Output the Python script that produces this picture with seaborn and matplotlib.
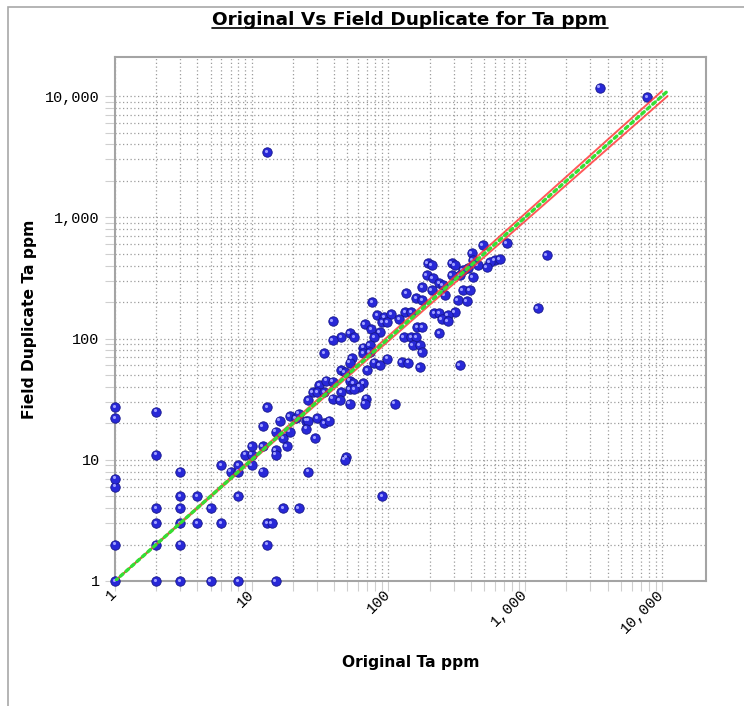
import matplotlib
matplotlib.use("Agg")
import matplotlib.pyplot as plt
import matplotlib.ticker as mticker
import matplotlib.transforms as mtransforms
from matplotlib.lines import Line2D
from matplotlib.patches import Rectangle
import seaborn as sns
import pandas as pd

# Original vs field duplicate assays (Ta ppm)
original = [
    1, 2, 3, 5, 8, 15,
    1, 2, 3, 13,
    2, 3, 4, 6, 13, 14,
    2, 3, 5, 17, 22,
    3, 4, 8, 90,
    1, 1,
    3, 7, 8, 12, 26,
    6, 8, 10,
    2, 9, 10,
    10, 12,
    12, 13, 1, 1, 2,
    15, 17, 18, 19,
    15, 15,
    16, 19, 21,
    22, 25, 26, 30, 34, 25, 29,
    34, 31, 35, 28, 30, 34, 26,
    # main cluster
    193, 190, 177, 135, 160, 177, 76, 133, 147, 83, 93, 105, 120, 90, 98,
    39, 67, 75, 86, 163, 177, 52, 56, 45, 79, 129, 147, 160, 39, 150, 169,
    65, 73,
    732, 488, 1438, 405, 412, 598, 651, 550, 290, 305, 449, 379, 348, 522,
    207, 412, 331, 290, 210, 236, 249, 207, 257, 348, 392, 320, 373, 1235,
    217, 236, 305, 271, 245, 271, 236,
    65, 73, 175, 54, 52, 79, 86, 98, 125, 140, 169, 45, 48, 70, 39, 52, 55,
    65, 61, 52, 56, 45, 39, 44, 69, 67, 52, 111, 37, 49, 48,
    331,
    # outliers
    13, 3500, 7800,
]
duplicate = [
    1, 1, 1, 1, 1, 1,
    2, 2, 2, 2,
    3, 3, 3, 3, 3, 3,
    4, 4, 4, 4, 4,
    5, 5, 5, 5,
    6, 7,
    8, 8, 8, 8, 8,
    9, 9, 9,
    11, 11, 11,
    13, 13,
    19, 27, 22, 27, 25,
    17, 15, 13, 17,
    12, 11,
    21, 23, 22,
    24, 21, 21, 22, 20, 18, 15,
    76, 41, 45, 36, 36, 36, 31,
    # main cluster
    420, 334, 266, 237, 216, 208, 200, 165, 165, 156, 150, 159, 145, 137, 137,
    139, 132, 120, 113, 124, 124, 111, 103, 103, 103, 102, 102, 102, 97, 88, 88,
    84, 88,
    613, 590, 488, 507, 444, 444, 452, 428, 420, 404, 404, 381, 367, 389,
    404, 322, 334, 334, 316, 287, 276, 251, 228, 251, 251, 208, 204, 178,
    162, 162, 165, 156, 145, 139, 111,
    76, 77, 77, 69, 63, 63, 60, 68, 64, 63, 58, 55, 53, 55, 44, 45, 43,
    43, 40, 38, 38, 36, 32, 31, 32, 29, 29, 29, 21, 10.5, 10,
    60,
    # outliers
    3450, 11700, 9800,
]

# 1:1 line and the two bounding lines
equal_x = [1, 11000]
equal_y = [1, 11000]
upper_x = [1, 10000]
upper_y = [1, 11000]
lower_x = [1, 11000]
lower_y = [1, 10000]

major_ticks = [1, 10, 100, 1000, 10000]
major_labels = ["1", "10", "100", "1,000", "10,000"]
minor_ticks = [k * 10 ** d for d in range(4) for k in range(2, 10)]

df = pd.DataFrame({"original": original, "duplicate": duplicate})

sns.set_style("white")
plt.rcParams["font.family"] = ["DejaVu Sans"]
plt.rcParams["text.color"] = "black"
plt.rcParams["axes.labelcolor"] = "black"
plt.rcParams["xtick.labelcolor"] = "black"
plt.rcParams["ytick.labelcolor"] = "black"

fig = plt.figure(figsize=(7.44, 7.06), dpi=100)
ax = fig.add_axes([115 / 744, 1 - 581 / 706, 591 / 744, 524 / 706])

# scatter of the sample pairs (blue balls)
sns.scatterplot(data=df, x="original", y="duplicate", ax=ax, s=46,
                color="#2828d8", edgecolor="#16168a", linewidth=0.6,
                clip_on=False, zorder=3)
shine = mtransforms.offset_copy(ax.transData, fig=fig, x=-1.0, y=1.0, units="points")
ax.scatter(df["original"], df["duplicate"], s=5, color="#a0a0ff", linewidth=0,
           transform=shine, clip_on=False, zorder=4)

ax.plot(upper_x, upper_y, color="#ff3030", lw=1.4, alpha=0.8, zorder=5)
ax.plot(lower_x, lower_y, color="#ff3030", lw=1.4, alpha=0.8, zorder=5)
ax.plot(equal_x, equal_y, color="#33e033", lw=2.4, ls=(0, (1, 1.2)),
        dash_capstyle="round", zorder=6)

ax.set_xscale("log")
ax.set_yscale("log")
ax.set_xlim(1, 21000)
ax.set_ylim(1, 21000)

for axis in (ax.xaxis, ax.yaxis):
    axis.set_major_locator(mticker.FixedLocator(major_ticks))
    axis.set_major_formatter(mticker.FixedFormatter(major_labels))
    axis.set_minor_locator(mticker.FixedLocator(minor_ticks))
    axis.set_minor_formatter(mticker.NullFormatter())

ax.set_axisbelow(True)
ax.grid(True, which="both", color="#9c9c9c", ls=(0, (1, 2)), lw=0.9)
for sp in ax.spines.values():
    sp.set_color("#a4a4a4")
    sp.set_linewidth(1.5)

ax.tick_params(which="both", length=7, width=0.8, color="#cfcfcf",
               direction="out", bottom=True, left=True)
ax.tick_params(axis="y", pad=4)
ax.tick_params(axis="x", pad=1)
for lab in ax.get_yticklabels():
    lab.set_fontfamily("Liberation Mono")
    lab.set_fontsize(11)
for lab in ax.get_xticklabels():
    lab.set_fontfamily("Liberation Mono")
    lab.set_fontsize(11)
    lab.set_rotation(45)
    lab.set_ha("right")
    lab.set_va("center")
    lab.set_rotation_mode("anchor")

ax.set_xlabel("Original Ta ppm", fontsize=11.2, fontweight="bold")
ax.set_ylabel("Field Duplicate Ta ppm", fontsize=11.2, fontweight="bold")
ax.xaxis.label.set_va("center")
ax.yaxis.label.set_va("center")
ax.xaxis.set_label_coords(0.5, (581 - 663) / 524)
ax.yaxis.set_label_coords((30 - 115) / 591, 0.5)

title = fig.text(410 / 744, 1 - 20 / 706, "Original Vs Field Duplicate for Ta ppm",
                 ha="center", va="center", fontsize=13.3, fontweight="bold")

# outer frame of the chart panel
fig.add_artist(Rectangle((8 / 744, -0.05), 1.1, 1.05 - 7 / 706,
                         transform=fig.transFigure, fill=False,
                         edgecolor="#a8a8a8", lw=1.2))

# underline the title
fig.canvas.draw()
bb = title.get_window_extent().transformed(fig.transFigure.inverted())
fig.add_artist(Line2D([bb.x0, bb.x1], [bb.y0 + 0.002, bb.y0 + 0.002],
                      transform=fig.transFigure, color="black", lw=1.2))

fig.savefig("out.png", dpi=100)
